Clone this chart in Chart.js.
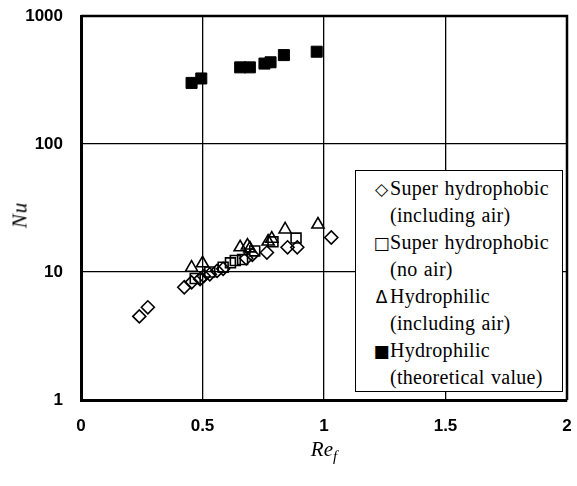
<!DOCTYPE html>
<html>
<head>
<meta charset="utf-8">
<script src="https://cdn.jsdelivr.net/npm/chart.js"></script>
<style>
  body { margin: 0; background: #fff; }
  #contenedor { position: relative; width: 577px; height: 486px; }
  .serif { font-family: "Liberation Serif", "Times New Roman", serif; }
  .titulo-eje { position: absolute; font-style: italic; font-size: 21px; color: #000; white-space: nowrap; }
  #titulo-y { left: 20px; top: 215px; transform: translate(-50%, -50%) rotate(-90deg); letter-spacing: 1px; }
  #titulo-x { left: 324px; top: 439px; transform: translateX(-50%); line-height: 1; }
  #titulo-x sub { font-size: 15px; }
  #leyenda {
    position: absolute; left: 355px; top: 170px; width: 208px; height: 222px;
    box-sizing: border-box; border: 1px solid #000; background: #fff;
    padding: 4px 0 0 17px;
    font-size: 20px; letter-spacing: 0.3px; word-spacing: 1px; color: #000; white-space: nowrap;
  }
  #leyenda div { height: 27px; line-height: 27px; }
  .sim { display: inline-block; width: 17px; text-align: center; font-family: "DejaVu Sans", sans-serif; font-size: 17px; line-height: 0; letter-spacing: 0; }
  #leyenda .sangria { padding-left: 17px; }
</style>
</head>
<body>
<div id="contenedor">
  <canvas id="grafico" width="577" height="486"></canvas>
  <div id="titulo-y" class="titulo-eje serif">Nu</div>
  <div id="titulo-x" class="titulo-eje serif">Re<sub>f</sub></div>
  <div id="leyenda" class="serif">
    <div><span class="sim">◇</span>Super hydrophobic</div>
    <div class="sangria">(including air)</div>
    <div><span class="sim">□</span>Super hydrophobic</div>
    <div class="sangria">(no air)</div>
    <div><span class="sim">Δ</span>Hydrophilic</div>
    <div class="sangria">(including air)</div>
    <div><span class="sim">■</span>Hydrophilic</div>
    <div class="sangria">(theoretical value)</div>
  </div>
</div>
<script>
// Super hydrophobic (including air) - rombos
const reRombo = [0.24, 0.275, 0.425, 0.455, 0.49, 0.505, 0.53, 0.56, 0.585, 0.68, 0.705, 0.765, 0.85, 0.89, 1.03];
const nuRombo = [4.5, 5.3, 7.6, 8.3, 8.8, 9.3, 9.6, 10.2, 10.6, 12.8, 13.6, 14.2, 15.6, 15.6, 18.6];

// Super hydrophobic (no air) - cuadrados vacios
const reCuadro = [0.47, 0.53, 0.585, 0.615, 0.635, 0.665, 0.715, 0.79, 0.885];
const nuCuadro = [8.9, 10.0, 10.9, 11.8, 12.3, 12.5, 14.6, 17.2, 18.4];

// Hydrophilic (including air) - triangulos
const reTriangulo = [0.455, 0.50, 0.655, 0.685, 0.695, 0.77, 0.785, 0.84, 0.975];
const nuTriangulo = [10.8, 11.7, 15.6, 16.1, 15.3, 17.3, 18.2, 21.5, 23.5];

// Hydrophilic (theoretical value) - cuadrados llenos
const reTeorico = [0.455, 0.495, 0.655, 0.695, 0.755, 0.78, 0.835, 0.97];
const nuTeorico = [300, 325, 397, 397, 425, 435, 495, 526];

// Marcas de los ejes
const ticksX = [0, 0.5, 1, 1.5, 2];
const ticksY = [1, 10, 100, 1000];

// Junta dos arrays en puntos {x, y}
function puntos(xs, ys) {
    return xs.map((x, i) => ({ x: x, y: ys[i] }));
}

// Fija el tamaño del eje y quita el relleno que agrega por las etiquetas
function fijarEje(s, ancho, alto) {
    if (ancho) s.width = ancho;
    if (alto) s.height = alto;
    s.paddingTop = s.paddingBottom = s.paddingLeft = s.paddingRight = 0;
}

// Dibuja el borde de arriba y de la derecha del area
const marco = {
    id: 'marco',
    beforeDatasetsDraw(chart) {
        const a = chart.chartArea;
        const ctx = chart.ctx;
        ctx.save();
        ctx.strokeStyle = '#000';
        ctx.lineWidth = 2.5;
        ctx.beginPath();
        ctx.moveTo(a.left, a.top);
        ctx.lineTo(a.right, a.top);
        ctx.lineTo(a.right, a.bottom);
        ctx.stroke();
        ctx.restore();
    }
};

const fuenteTicks = { family: '"Liberation Sans", Arial, sans-serif', size: 17, weight: 'bold' };

new Chart(document.getElementById('grafico'), {
    type: 'scatter',
    data: {
        datasets: [
            {
                label: 'Super hydrophobic (including air)',
                data: puntos(reRombo, nuRombo),
                pointStyle: 'rectRot',
                pointRadius: 6.5,
                borderColor: '#000',
                backgroundColor: 'rgba(0,0,0,0)',
                borderWidth: 1.6
            },
            {
                label: 'Super hydrophobic (no air)',
                data: puntos(reCuadro, nuCuadro),
                pointStyle: 'rect',
                pointRadius: 7,
                borderColor: '#000',
                backgroundColor: 'rgba(0,0,0,0)',
                borderWidth: 1.6
            },
            {
                label: 'Hydrophilic (including air)',
                data: puntos(reTriangulo, nuTriangulo),
                pointStyle: 'triangle',
                pointRadius: 7,
                borderColor: '#000',
                backgroundColor: 'rgba(0,0,0,0)',
                borderWidth: 1.6
            },
            {
                label: 'Hydrophilic (theoretical value)',
                data: puntos(reTeorico, nuTeorico),
                pointStyle: 'rect',
                pointRadius: 7.8,
                borderColor: '#000',
                backgroundColor: '#000',
                borderWidth: 1
            }
        ]
    },
    options: {
        responsive: false,
        animation: false,
        layout: {
            autoPadding: false,
            padding: { left: 0, top: 16, right: 10, bottom: 0 }
        },
        plugins: {
            legend: { display: false },
            tooltip: { enabled: false }
        },
        scales: {
            x: {
                type: 'linear',
                min: 0,
                max: 2,
                afterFit: s => fijarEje(s, 0, 86),
                afterBuildTicks: s => { s.ticks = ticksX.map(v => ({ value: v })); },
                ticks: {
                    color: '#000',
                    font: fuenteTicks,
                    padding: 16,
                    callback: v => String(v)
                },
                grid: { color: '#000', lineWidth: 1.3, drawTicks: false },
                border: { display: true, color: '#000', width: 3 }
            },
            y: {
                type: 'logarithmic',
                min: 1,
                max: 1000,
                afterFit: s => fijarEje(s, 81, 0),
                afterBuildTicks: s => { s.ticks = ticksY.map(v => ({ value: v })); },
                ticks: {
                    color: '#000',
                    font: fuenteTicks,
                    padding: 18,
                    callback: v => String(v)
                },
                grid: { color: '#000', lineWidth: 1.3, drawTicks: false },
                border: { display: true, color: '#000', width: 3 }
            }
        }
    },
    plugins: [marco]
});
</script>
</body>
</html>
